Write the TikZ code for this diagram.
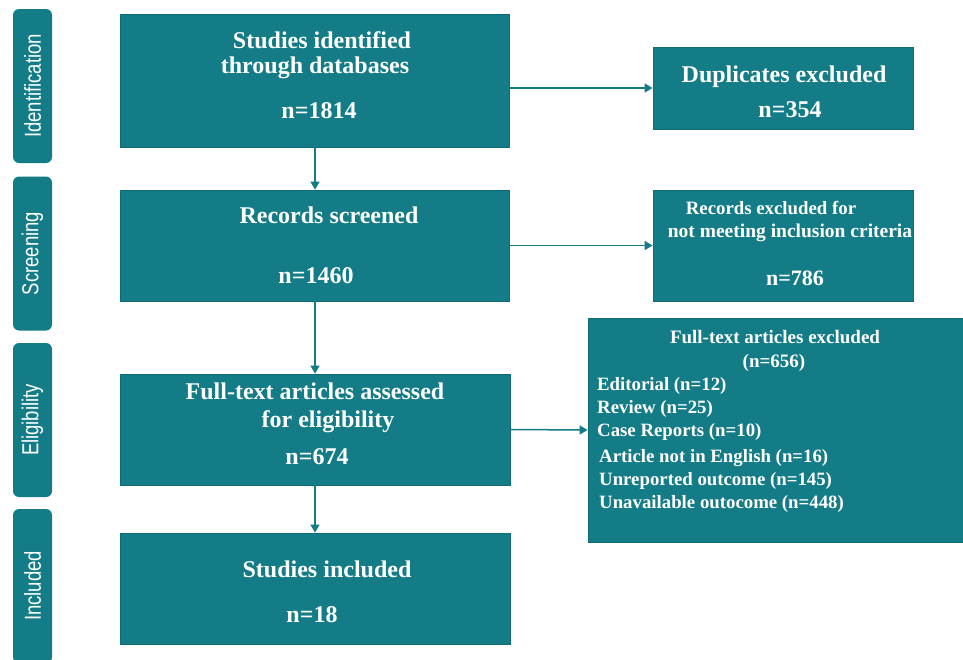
\documentclass[tikz,border=0pt]{standalone}
\usepackage{fontspec}
\setmainfont{Liberation Serif}
\newfontfamily\sidefont{Liberation Sans}
\usetikzlibrary{arrows.meta}
\definecolor{teal1}{HTML}{137C87}
\definecolor{tealedge}{HTML}{0F6C76}
\tikzset{
  box/.style={draw=tealedge, line width=0.8pt, fill=teal1, inner sep=0pt},
  sidebox/.style={fill=teal1, rounded corners=6pt, inner sep=0pt, minimum width=39pt, minimum height=154pt},
  sidetext/.style={text=white, font=\sidefont\fontsize{18.5}{20}\selectfont, rotate=90, inner sep=0pt},
  bigtext/.style={text=white, anchor=base, inner sep=0pt, font=\bfseries\fontsize{24}{28}\selectfont},
  midtext/.style={text=white, anchor=base, inner sep=0pt, font=\bfseries\fontsize{18.8}{22}\selectfont},
  smalltext/.style={text=white, anchor=base, inner sep=0pt, font=\bfseries\fontsize{19}{22}\selectfont},
  listtext/.style={text=white, anchor=base west, inner sep=0pt, font=\bfseries\fontsize{18.8}{22}\selectfont},
  flow/.style={draw=teal1, line width=1.5pt, -{Triangle[width=9pt,length=8pt]}}
}
\begin{document}
\begin{tikzpicture}[x=1pt,y=-1pt]
\useasboundingbox[fill=white] (0,0) rectangle (963,659);
% side labels
\node[sidebox] (sid) at (32.5,86) {};
\node[sidebox] (ssc) at (32.5,253.5) {};
\node[sidebox] (sel) at (32.5,420) {};
\node[sidebox] (sin) at (32.5,586) {};
\node[sidetext] (tid) at (sid.center) {\scalebox{1}[1.25]{Identification}};
\node[sidetext] (tsc) at (ssc.center) {\scalebox{1}[1.25]{Screening}};
\node[sidetext] (tel) at (sel.center) {\scalebox{1}[1.25]{Eligibility}};
\node[sidetext] (tin) at (sin.center) {\scalebox{1}[1.25]{Included}};
% main boxes
\node[box, minimum width=389pt, minimum height=133pt] (b1) at (315,80.5) {};
\node[box, minimum width=389pt, minimum height=111pt] (b2) at (315,245.5) {};
\node[box, minimum width=390pt, minimum height=111pt] (b3) at (315,429.5) {};
\node[box, minimum width=390pt, minimum height=111pt] (b4) at (315,588.5) {};
\node[box, minimum width=260pt, minimum height=82pt] (dup) at (783,88) {};
\node[box, minimum width=260pt, minimum height=111pt] (rex) at (783,245.5) {};
\node[box, minimum width=375pt, minimum height=224pt] (fex) at (775.5,430) {};
% texts box 1
\node[bigtext] (t1a) at (322,48) {Studies identified};
\node[bigtext] (t1b) at (315,73) {through databases};
\node[bigtext] (t1c) at (319,118) {n=1814};
% box 2
\node[bigtext] (t2a) at (329,223) {Records screened};
\node[bigtext] (t2b) at (316,283) {n=1460};
% box 3
\node[bigtext] (t3a) at (315,399) {Full-text articles assessed};
\node[bigtext] (t3b) at (328,427) {for eligibility};
\node[bigtext] (t3c) at (317,464) {n=674};
% box 4
\node[bigtext] (t4a) at (327,577) {Studies included};
\node[bigtext] (t4b) at (312,622) {n=18};
% duplicates
\node[bigtext] (tda) at (784,82) {Duplicates excluded};
\node[bigtext] (tdb) at (790,117) {n=354};
% records excluded
\node[midtext] (tra) at (771,214) {Records excluded for};
\node[smalltext, font=\bfseries\fontsize{19.5}{22}\selectfont] (trb) at (790,237) {not meeting inclusion criteria};
\node[midtext, font=\bfseries\fontsize{22}{24}\selectfont] (trc) at (795,285) {n=786};
% full-text excluded
\node[smalltext] (tfa) at (775,343) {Full-text articles excluded};
\node[smalltext] (tfb) at (774,367) {(n=656)};
\node[listtext] (tf1) at (597,390) {Editorial (n=12)};
\node[listtext] (tf2) at (597,413) {Review (n=25)};
\node[listtext] (tf3) at (597,436) {Case Reports (n=10)};
\node[listtext] (tf4) at (599,462) {Article not in English (n=16)};
\node[listtext] (tf5) at (599,485) {Unreported outcome (n=145)};
\node[listtext] (tf6) at (599,508) {Unavailable outocome (n=448)};
% connectors
\draw[flow] (b1.south) -- (b2.north);
\draw[flow] (b2.south) -- (b3.north);
\draw[flow] (b3.south) -- (b4.north);
\draw[flow] (b1.east |- dup.west) -- (dup.west);
\draw[flow] (b2.east) -- (rex.west);
\draw[flow] (b3.east) -- (fex.west);
\end{tikzpicture}
\end{document}
